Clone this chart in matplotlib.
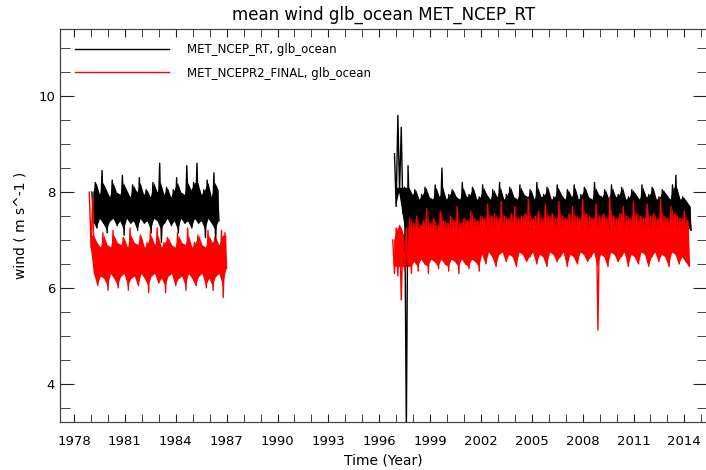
import numpy as np
import matplotlib
matplotlib.use("Agg")
import matplotlib.pyplot as plt
from matplotlib.ticker import MultipleLocator

# envelope of the daily series, every 0.2 yr
# (hi = top of the band, lo = bottom of the band)
step = 0.2

black1_start = 1979.05
black1_hi = [8.00, 8.20, 7.95, 8.45, 8.05, 7.90, 8.25, 8.00, 7.95, 8.35,
             8.05, 7.90, 8.15, 8.00, 8.30, 7.95, 8.05, 7.90, 8.20, 8.00,
             8.60, 7.95, 8.10, 7.90, 8.05, 8.30, 8.00, 7.95, 8.55, 8.05,
             8.20, 8.60, 7.95, 8.05, 8.25, 7.90, 8.40, 8.05]
black1_lo = [7.40, 7.25, 7.45, 7.35, 7.15, 7.40, 7.45, 7.30, 7.40, 7.10,
             7.45, 7.35, 7.40, 7.20, 7.45, 7.35, 7.40, 7.15, 7.45, 7.40,
             6.95, 7.35, 7.45, 7.30, 7.40, 7.15, 7.45, 7.35, 7.40, 7.25,
             7.45, 7.35, 7.40, 7.05, 7.45, 7.35, 6.95, 7.40]

red1_start = 1978.9
red1_hi = [8.00, 7.90, 6.95, 6.85, 7.15, 6.90, 6.85, 7.20, 6.95, 6.90,
           7.05, 6.85, 7.25, 6.95, 6.90, 7.10, 6.85, 6.95, 7.20, 6.90,
           7.25, 6.85, 6.95, 7.05, 6.90, 6.85, 7.15, 6.95, 6.90, 7.25,
           6.85, 6.95, 7.10, 6.90, 6.85, 7.20, 6.95, 7.05, 6.90, 7.20,
           7.15]
red1_lo = [6.85, 6.30, 6.05, 6.25, 6.20, 5.95, 6.30, 6.20, 6.00, 6.25,
           6.30, 5.95, 6.20, 6.25, 6.05, 6.30, 6.20, 5.90, 6.25, 6.30,
           6.10, 6.20, 5.90, 6.25, 6.30, 6.05, 6.20, 6.25, 5.95, 6.30,
           6.20, 6.05, 6.25, 6.30, 6.00, 6.20, 5.95, 6.25, 6.30, 5.80,
           6.40]

black2_start = 1996.9
black2_hi = [8.80, 9.60, 9.35, 8.10, 8.55, 7.95,
             8.05, 7.85, 7.95, 8.10, 7.90, 7.85, 8.15, 7.90, 8.50, 7.85,
             7.95, 8.05, 7.90, 7.85, 8.20, 7.90, 7.95, 8.10, 7.85, 7.90,
             8.15, 7.95, 7.85, 8.05, 7.90, 8.20, 7.85, 7.95, 8.10, 7.90,
             7.85, 8.15, 7.95, 7.90, 8.05, 7.85, 8.20, 7.90, 7.95, 8.10,
             7.85, 7.90, 8.15, 7.95, 7.85, 8.05, 7.90, 8.15, 7.85, 7.95,
             8.10, 7.90, 7.85, 8.20, 7.95, 7.90, 8.05, 7.85, 8.15, 7.90,
             7.95, 8.10, 7.85, 7.90, 8.05, 7.95, 7.85, 8.15, 7.90, 7.95,
             8.10, 7.85, 7.90, 8.05, 7.95, 7.85, 8.15,
             8.35, 7.85, 7.90, 7.80, 7.70]
black2_lo = [7.70, 8.00, 7.55, 3.00, 7.20, 7.10,
             7.25, 7.15, 7.30, 7.10, 7.20, 7.25, 7.05, 7.30, 7.15, 7.25,
             7.20, 7.30, 7.10, 7.25, 7.20, 7.35, 7.15, 7.25, 7.30, 7.20,
             7.35, 7.15, 7.30, 7.25, 7.35, 7.20, 7.30, 7.25, 7.35, 7.20,
             7.30, 7.25, 7.35, 7.20, 7.30, 7.25, 7.35, 7.15, 7.30, 7.25,
             7.35, 7.20, 7.30, 7.25, 7.35, 7.20, 7.30, 7.25, 7.35, 7.20,
             7.30, 7.25, 7.35, 7.20, 7.30, 7.25, 7.35, 7.20, 7.30, 7.25,
             7.35, 7.20, 7.30, 7.25, 7.35, 7.20, 7.30, 7.25, 7.35, 7.20,
             7.30, 7.25, 7.35, 7.20, 7.30, 7.25, 7.35, 7.20, 7.30, 7.25,
             7.30, 7.20]

red2_start = 1996.8
red2_hi = [7.00, 7.25, 7.30, 7.10, 7.25, 7.45,
           7.35, 7.50, 7.30, 7.40, 7.65, 7.35, 7.45, 7.30, 7.60, 7.40,
           7.35, 7.50, 7.40, 7.70, 7.35, 7.45, 7.40, 7.60, 7.45, 7.40,
           7.50, 7.45, 7.75, 7.50, 7.55, 7.45, 7.80, 7.50, 7.45, 7.55,
           7.70, 7.45, 7.50, 7.55, 7.85, 7.45, 7.50, 7.60, 7.45, 7.75,
           7.50, 7.55, 7.45, 7.80, 7.50, 7.45, 7.55, 7.70, 7.50, 7.45,
           7.85, 7.55, 7.50, 7.45, 7.75, 7.50, 7.55, 7.45, 7.90, 7.50,
           7.45, 7.55, 7.70, 7.50, 7.45, 7.80, 7.55, 7.50, 7.45, 7.75,
           7.50, 7.55, 7.45, 7.85, 7.50, 7.45, 7.70, 7.55, 7.50, 7.45,
           7.60, 7.40]
red2_lo = [6.30, 6.25, 5.75, 6.35, 6.45, 6.30,
           6.55, 6.35, 6.60, 6.50, 6.30, 6.60, 6.55, 6.40, 6.60, 6.50,
           6.35, 6.60, 6.55, 6.30, 6.60, 6.50, 6.40, 6.60, 6.55, 6.35,
           6.70, 6.50, 6.75, 6.65, 6.45, 6.70, 6.75, 6.55, 6.70, 6.65,
           6.45, 6.75, 6.70, 6.55, 6.65, 6.75, 6.50, 6.70, 6.65, 6.45,
           6.75, 6.70, 6.55, 6.65, 6.75, 6.45, 6.70, 6.65, 6.50, 6.75,
           6.70, 6.55, 6.65, 6.75, 5.12, 6.70, 6.65, 6.45, 6.75, 6.70,
           6.55, 6.65, 6.75, 6.45, 6.70, 6.65, 6.50, 6.75, 6.70, 6.45,
           6.65, 6.75, 6.55, 6.70, 6.65, 6.45, 6.75, 6.70, 6.50, 6.65,
           6.55, 6.45]

labels = ["MET_NCEP_RT, glb_ocean", "MET_NCEPR2_FINAL, glb_ocean"]
colors = ["black", "red"]


def draw_band(ax, start, hi, lo, color, label):
    n = min(len(hi), len(lo))
    hi = np.asarray(hi[:n])
    lo = np.asarray(lo[:n])
    t = start + step * np.arange(n)
    # solid core; lone outliers are clipped so they stay thin spikes
    core_hi = np.minimum(hi, np.median(hi) + 0.15)
    core_lo = np.maximum(lo, np.median(lo) - 0.15)
    ax.fill_between(t + step / 4, core_lo, core_hi, color=color, lw=0)
    # walk top -> bottom -> top so the band looks like dense daily data
    x = np.column_stack([t, t + step / 2]).ravel()
    y = np.column_stack([hi, lo]).ravel()
    ax.plot(x, y, color=color, lw=1.0, label=label)


fig = plt.figure(figsize=(7.06, 4.70), dpi=100)
ax = fig.add_axes([0.085, 0.102, 0.917, 0.836])

draw_band(ax, black1_start, black1_hi, black1_lo, colors[0], labels[0])
draw_band(ax, black2_start, black2_hi, black2_lo, colors[0], None)
draw_band(ax, red1_start, red1_hi, red1_lo, colors[1], labels[1])
draw_band(ax, red2_start, red2_hi, red2_lo, colors[1], None)

ax.set_xlim(1977.17, 2015.36)
ax.set_ylim(3.2, 11.4)
ax.xaxis.set_major_locator(MultipleLocator(3, offset=1))
ax.xaxis.set_minor_locator(MultipleLocator(1))
ax.yaxis.set_major_locator(MultipleLocator(2))
ax.yaxis.set_minor_locator(MultipleLocator(0.5))
ax.tick_params(which="both", direction="in", top=True, right=True,
               labelsize=9.5, color="#222222")
ax.tick_params(axis="x", which="both", length=6, pad=9)
ax.tick_params(axis="y", which="major", length=10)
ax.tick_params(axis="y", which="minor", length=7)
for s in ax.spines.values():
    s.set_color("#444444")
    s.set_linewidth(0.9)

ax.set_title("mean wind glb_ocean MET_NCEP_RT", fontsize=12, pad=7)
ax.set_xlabel("Time (Year)", fontsize=10, labelpad=4)
ax.set_ylabel("wind ( m s^-1 )", fontsize=10, labelpad=8)

ax.legend(loc="upper left", bbox_to_anchor=(0.023, 0.965), frameon=False,
          fontsize=8.5, handlelength=8.0, handletextpad=1.5, labelspacing=0.9,
          borderpad=0, borderaxespad=0)

fig.savefig("out.png", dpi=100)
